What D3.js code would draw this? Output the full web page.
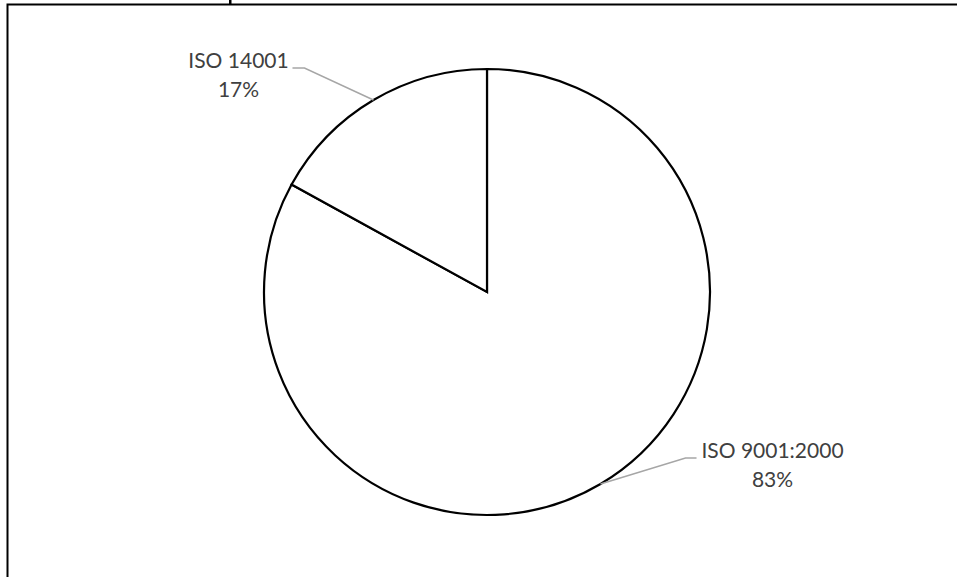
<!DOCTYPE html>
<html>
<head>
<meta charset="utf-8">
<script src="https://cdn.jsdelivr.net/npm/d3@7"></script>
<style>
  html, body { margin: 0; padding: 0; background: #fff; }
  svg { display: block; }
</style>
</head>
<body>
<svg id="chart" width="957" height="577"></svg>
<script>
// ---- data ----
const categories = ["ISO 9001:2000", "ISO 14001"];
const values = [83, 17];
const percentLabels = ["83%", "17%"];

// ---- layout ----
const W = 957, H = 577;
const cx = 487, cy = 292, R = 223;
const font = "Lato, 'Open Sans', sans-serif";
const fontSize = 21;
const lineGap = 29;
// label geometry relative to the slice mid-point on the rim
const labelLayout = [
  { elbowDx: 85, elbowDy: -26, tailDx: 11, textDx: 87, textDy: 0 },    // ISO 9001:2000
  { elbowDx: -69, elbowDy: -32, tailDx: -12, textDx: -66, textDy: 0 }  // ISO 14001
];

const svg = d3.select("#chart");
svg.append("rect").attr("width", W).attr("height", H).attr("fill", "#fff");

// chart border (cut off at right and bottom)
svg.append("rect")
  .attr("x", 7.5).attr("y", 4.5)
  .attr("width", W + 20).attr("height", H + 20)
  .attr("fill", "none").attr("stroke", "#000").attr("stroke-width", 2);

// fragment of the cut-off title (descender stroke above the border)
svg.append("rect")
  .attr("x", 229).attr("y", 0)
  .attr("width", 2.5).attr("height", 4)
  .attr("fill", "#000");

const data = categories.map((c, i) => ({ name: c, value: values[i], pct: percentLabels[i], i }));
const pie = d3.pie().value(d => d.value).sort(null);
const arcs = pie(data);
const arc = d3.arc().innerRadius(0).outerRadius(R);

const g = svg.append("g").attr("transform", `translate(${cx},${cy})`);
g.selectAll("path.slice").data(arcs).join("path")
  .attr("class", "slice")
  .attr("d", arc)
  .attr("fill", "#fff")
  .attr("stroke", "#000")
  .attr("stroke-width", 2.2)
  .attr("stroke-linejoin", "miter");

// leader lines and labels
arcs.forEach(a => {
  const mid = (a.startAngle + a.endAngle) / 2;
  const px = R * Math.sin(mid), py = -R * Math.cos(mid);
  const L = labelLayout[a.data.i];
  const ex = px + L.elbowDx, ey = py + L.elbowDy;
  const tx = ex + L.tailDx;
  g.append("polyline")
    .attr("points", `${px},${py} ${ex},${ey} ${tx},${ey}`)
    .attr("fill", "none").attr("stroke", "#a6a6a6").attr("stroke-width", 1.5);
  const lx = ex + L.textDx, ly = ey + L.textDy;
  const t = g.append("text")
    .attr("font-family", font).attr("font-size", fontSize)
    .attr("fill", "#404040").attr("text-anchor", "middle");
  t.append("tspan").attr("x", lx).attr("y", ly).text(a.data.name);
  t.append("tspan").attr("x", lx).attr("y", ly + lineGap).text(a.data.pct);
});
</script>
</body>
</html>
